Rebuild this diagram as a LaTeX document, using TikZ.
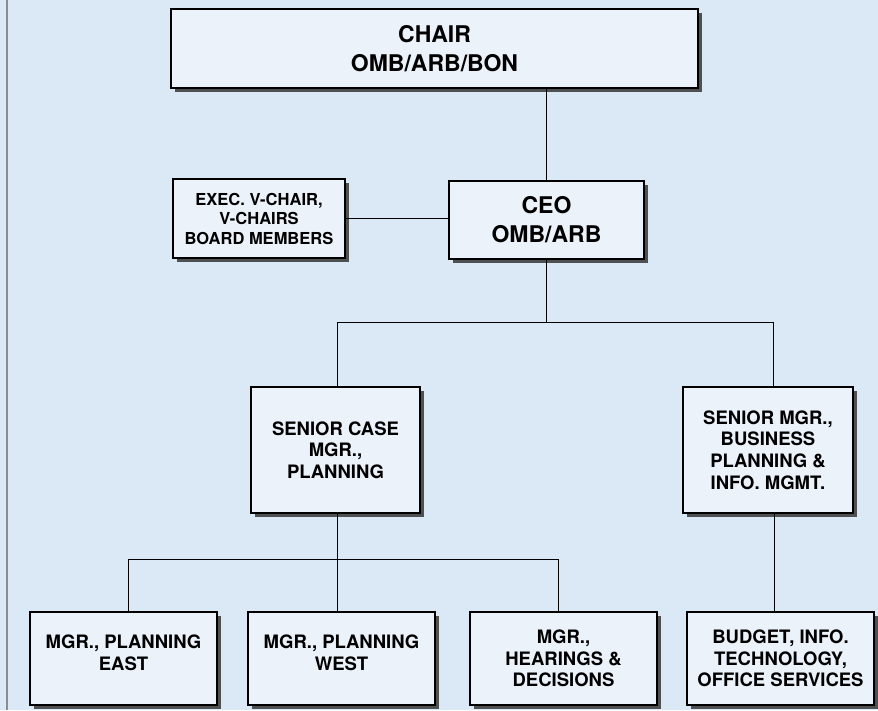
\documentclass[tikz,border=0pt]{standalone}
\usepackage{fontspec}
\setmainfont{TeX Gyre Heros}
\usetikzlibrary{shadows}
\definecolor{bgc}{RGB}{219,232,246}
\definecolor{boxfill}{RGB}{236,242,250}
\tikzset{
  orgbox/.style={draw=black, line width=1.1pt, fill=boxfill, align=center,
    inner sep=2pt, font=\bfseries,
    drop shadow={shadow xshift=4pt, shadow yshift=-4pt, fill=black!75, opacity=0.9}},
  big/.style={font=\bfseries\fontsize{23}{29}\selectfont},
  small/.style={font=\bfseries\fontsize{16.5}{19.5}\selectfont},
  mid/.style={font=\bfseries\fontsize{18.5}{21.7}\selectfont},
  link/.style={draw=black, line width=0.9pt}
}
\begin{document}
\begin{tikzpicture}[x=1pt,y=1pt]
\useasboundingbox (0,0) rectangle (878,-710);
\fill[bgc] (0,0) rectangle (878,-710);
\draw[black!45, line width=1.2pt] (7,0) -- (7,-710);

\node[orgbox, big, minimum width=527pt, minimum height=79pt] (chair) at (434.5,-48.5) {CHAIR\\OMB/ARB/BON};
\node[orgbox, small, minimum width=172pt, minimum height=79pt] (exec) at (259,-218.5) {EXEC. V-CHAIR,\\V-CHAIRS\\BOARD MEMBERS};
\node[orgbox, big, minimum width=195pt, minimum height=78pt] (ceo) at (546.5,-220) {CEO\\OMB/ARB};
\node[orgbox, mid, minimum width=169pt, minimum height=126pt] (sc) at (335.5,-450) {SENIOR CASE\\MGR.,\\PLANNING};
\node[orgbox, mid, minimum width=170pt, minimum height=126pt] (sm) at (768,-450) {SENIOR MGR.,\\BUSINESS\\PLANNING \&\\INFO. MGMT.};
\node[orgbox, mid, minimum width=187pt, minimum height=93pt] (east) at (123.5,-658.5) {MGR., PLANNING\\EAST\\[-10pt]\mbox{}};
\node[orgbox, mid, minimum width=187pt, minimum height=93pt] (west) at (341.5,-658.5) {MGR., PLANNING\\WEST\\[-10pt]\mbox{}};
\node[orgbox, mid, minimum width=187pt, minimum height=93pt] (hear) at (563.5,-658.5) {MGR.,\\HEARINGS \&\\DECISIONS};
\node[orgbox, mid, minimum width=187pt, minimum height=93pt] (budg) at (780.5,-658.5) {BUDGET, INFO.\\TECHNOLOGY,\\OFFICE SERVICES};

\coordinate (j1) at (546.5,-322);
\coordinate (j2) at (337,-559);

\draw[link] (chair.south -| ceo.north) -- (ceo.north);
\draw[link] (exec.east) -- (exec.east -| ceo.west);
\draw[link] (ceo.south) -- (j1);
\draw[link] (j1) -| ([xshift=1.5pt]sc.north);
\draw[link] (j1) -| ([xshift=5pt]sm.north);
\draw[link] ([xshift=1.5pt]sc.south) -- ([xshift=1.5pt]sc.south |- west.north);
\draw[link] ([xshift=4.5pt]east.north) |- (j2) -| ([xshift=-5.5pt]hear.north);
\draw[link] ([xshift=6pt]sm.south) -- ([xshift=6pt]sm.south |- budg.north);
\end{tikzpicture}
\end{document}
